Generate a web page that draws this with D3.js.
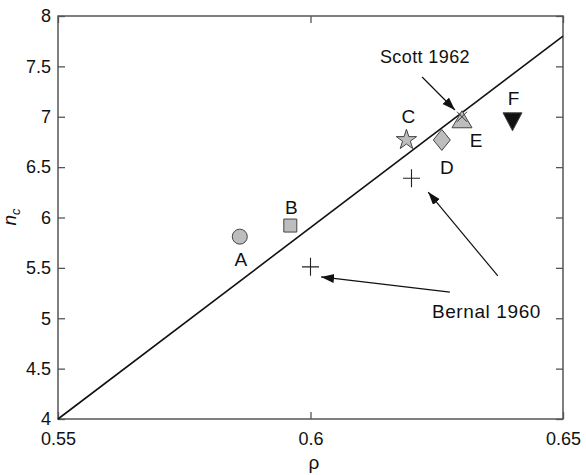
<!DOCTYPE html>
<html>
<head>
<meta charset="utf-8">
<script src="https://d3js.org/d3.v7.min.js"></script>
<style>
  body { margin: 0; background: #fff; }
  text { font-family: "Liberation Sans", Arial, sans-serif; fill: #111; }
</style>
</head>
<body>
<svg width="586" height="475"></svg>
<script>
// packing data
var labels = ["A", "B", "C", "D", "E", "F"];
var rho = [0.586, 0.596, 0.619, 0.626, 0.630, 0.640];
var nc = [5.81, 5.92, 6.77, 6.77, 6.97, 6.95];

var bernalRho = [0.600, 0.620];
var bernalNc = [5.51, 6.39];
var scottRho = [0.630];
var scottNc = [7.00];

// straight line
var lineRho = [0.55, 0.65];
var lineNc = [4.0, 7.8];

var xTicks = [0.55, 0.6, 0.65];
var yTicks = [4, 4.5, 5, 5.5, 6, 6.5, 7, 7.5, 8];

// arrows [tailRho, tailNc, tipRho, tipNc]
var scottArrow = [[0.6221, 7.395, 0.6286, 7.067]];
var bernalArrows = [[0.6276, 5.26, 0.6021, 5.41], [0.6371, 5.42, 0.6233, 6.253]];

// styles
var shapes = ["circle", "square", "star", "diamond", "up", "down"];
var fills = ["#bdbdbd", "#bdbdbd", "#bdbdbd", "#bdbdbd", "#bdbdbd", "#111"];
var labelOffsets = [[1, 29], [1, -12], [2, -17], [5, 34], [14, 27], [1, -17]];

var svg = d3.select("svg");
var pLeft = 58, pRight = 563, pTop = 16, pBottom = 419;

var x = d3.scaleLinear().domain([0.55, 0.65]).range([pLeft, pRight]);
var y = d3.scaleLinear().domain([4, 8]).range([pBottom, pTop]);

var axisColor = "#555";

// frame
svg.append("rect")
  .attr("x", pLeft).attr("y", pTop)
  .attr("width", pRight - pLeft).attr("height", pBottom - pTop)
  .attr("fill", "none").attr("stroke", axisColor).attr("stroke-width", 1.5);

function styleAxis(g) {
  g.select(".domain").remove();
  g.selectAll(".tick line").attr("stroke", axisColor).attr("stroke-width", 1.3);
  g.selectAll(".tick text").attr("font-size", 18).attr("fill", "#111")
    .style("font-family", "'Liberation Sans', Arial, sans-serif");
}

svg.append("g").attr("transform", "translate(" + pLeft + ",0)")
  .call(d3.axisLeft(y).tickValues(yTicks).tickSizeInner(-7).tickSizeOuter(0).tickPadding(7).tickFormat(d3.format("")))
  .call(styleAxis);
svg.append("g").attr("transform", "translate(" + pRight + ",0)")
  .call(d3.axisRight(y).tickValues(yTicks).tickSizeInner(-7).tickSizeOuter(0).tickFormat(""))
  .call(styleAxis);
svg.append("g").attr("transform", "translate(0," + pBottom + ")")
  .call(d3.axisBottom(x).tickValues(xTicks).tickSizeInner(-7).tickSizeOuter(0).tickPadding(13).tickFormat(d3.format("")))
  .call(styleAxis);
svg.append("g").attr("transform", "translate(0," + pTop + ")")
  .call(d3.axisTop(x).tickValues(xTicks).tickSizeInner(-7).tickSizeOuter(0).tickFormat(""))
  .call(styleAxis);

// axis titles
svg.append("text")
  .attr("x", 314).attr("y", 469)
  .attr("text-anchor", "middle").attr("font-size", 19)
  .text("ρ");

var yl = svg.append("text")
  .attr("transform", "translate(16,217) rotate(-90)")
  .attr("text-anchor", "middle").attr("font-size", 19)
  .attr("font-style", "italic");
yl.append("tspan").text("n");
yl.append("tspan").attr("font-size", 13).attr("dy", 4).text("c");

// fit line
svg.append("line")
  .attr("x1", x(lineRho[0])).attr("y1", y(lineNc[0]))
  .attr("x2", x(lineRho[1])).attr("y2", y(lineNc[1]))
  .attr("stroke", "#111").attr("stroke-width", 1.6);

// marker shapes
function shapePath(s) {
  if (s === "circle") return d3.symbol(d3.symbolCircle, 177)();
  if (s === "square") return d3.symbol(d3.symbolSquare, 169)();
  if (s === "star") return d3.symbol(d3.symbolStar, 128)();
  if (s === "diamond") return "M0,-10.5L8.5,0L0,10.5L-8.5,0Z";
  if (s === "up") return "M0,-9L10,8L-10,8Z";
  if (s === "down") return "M-9.5,-9L9.5,-9L0,9Z";
}

var pts = labels.map(function(d, i) {
  return { label: d, rho: rho[i], nc: nc[i], shape: shapes[i], fill: fills[i], off: labelOffsets[i] };
});

svg.selectAll(".pt")
  .data(pts)
  .enter().append("path")
  .attr("class", "pt")
  .attr("transform", function(d) { return "translate(" + x(d.rho) + "," + y(d.nc) + ")"; })
  .attr("d", function(d) { return shapePath(d.shape); })
  .attr("fill", function(d) { return d.fill; })
  .attr("stroke", "#444").attr("stroke-width", 1);

svg.selectAll(".lbl")
  .data(pts)
  .enter().append("text")
  .attr("class", "lbl")
  .attr("x", function(d) { return x(d.rho) + d.off[0]; })
  .attr("y", function(d) { return y(d.nc) + d.off[1]; })
  .attr("text-anchor", "middle").attr("font-size", 19)
  .text(function(d) { return d.label; });

// Bernal crosses
svg.selectAll(".plus")
  .data(bernalRho.map(function(d, i) { return [d, bernalNc[i]]; }))
  .enter().append("path")
  .attr("class", "plus")
  .attr("transform", function(d) { return "translate(" + x(d[0]) + "," + y(d[1]) + ")"; })
  .attr("d", "M-8.5,0H8.5M0,-9V9")
  .attr("stroke", "#222").attr("stroke-width", 1.1).attr("fill", "none");

// Scott point
svg.selectAll(".scott")
  .data(scottRho.map(function(d, i) { return [d, scottNc[i]]; }))
  .enter().append("path")
  .attr("class", "scott")
  .attr("transform", function(d) { return "translate(" + x(d[0]) + "," + y(d[1]) + ")"; })
  .attr("d", "M-5,-5L5,5M5,-5L-5,5")
  .attr("stroke", "#333").attr("stroke-width", 1).attr("fill", "none");

// arrows
svg.append("defs").append("marker")
  .attr("id", "head")
  .attr("markerUnits", "userSpaceOnUse")
  .attr("markerWidth", 14).attr("markerHeight", 10)
  .attr("refX", 13).attr("refY", 4.5)
  .attr("orient", "auto")
  .append("path").attr("d", "M0,0L13,4.5L0,9Z").attr("fill", "#111");

svg.selectAll(".arrow")
  .data(scottArrow.concat(bernalArrows))
  .enter().append("line")
  .attr("class", "arrow")
  .attr("x1", function(d) { return x(d[0]); }).attr("y1", function(d) { return y(d[1]); })
  .attr("x2", function(d) { return x(d[2]); }).attr("y2", function(d) { return y(d[3]); })
  .attr("stroke", "#111").attr("stroke-width", 1.2)
  .attr("marker-end", "url(#head)");

svg.append("text")
  .attr("x", 470).attr("y", 63)
  .attr("text-anchor", "end").attr("font-size", 18).attr("letter-spacing", 0.4)
  .text("Scott 1962");

svg.append("text")
  .attr("x", 541).attr("y", 318)
  .attr("text-anchor", "end").attr("font-size", 19).attr("letter-spacing", 0.6)
  .text("Bernal 1960");
</script>
</body>
</html>
